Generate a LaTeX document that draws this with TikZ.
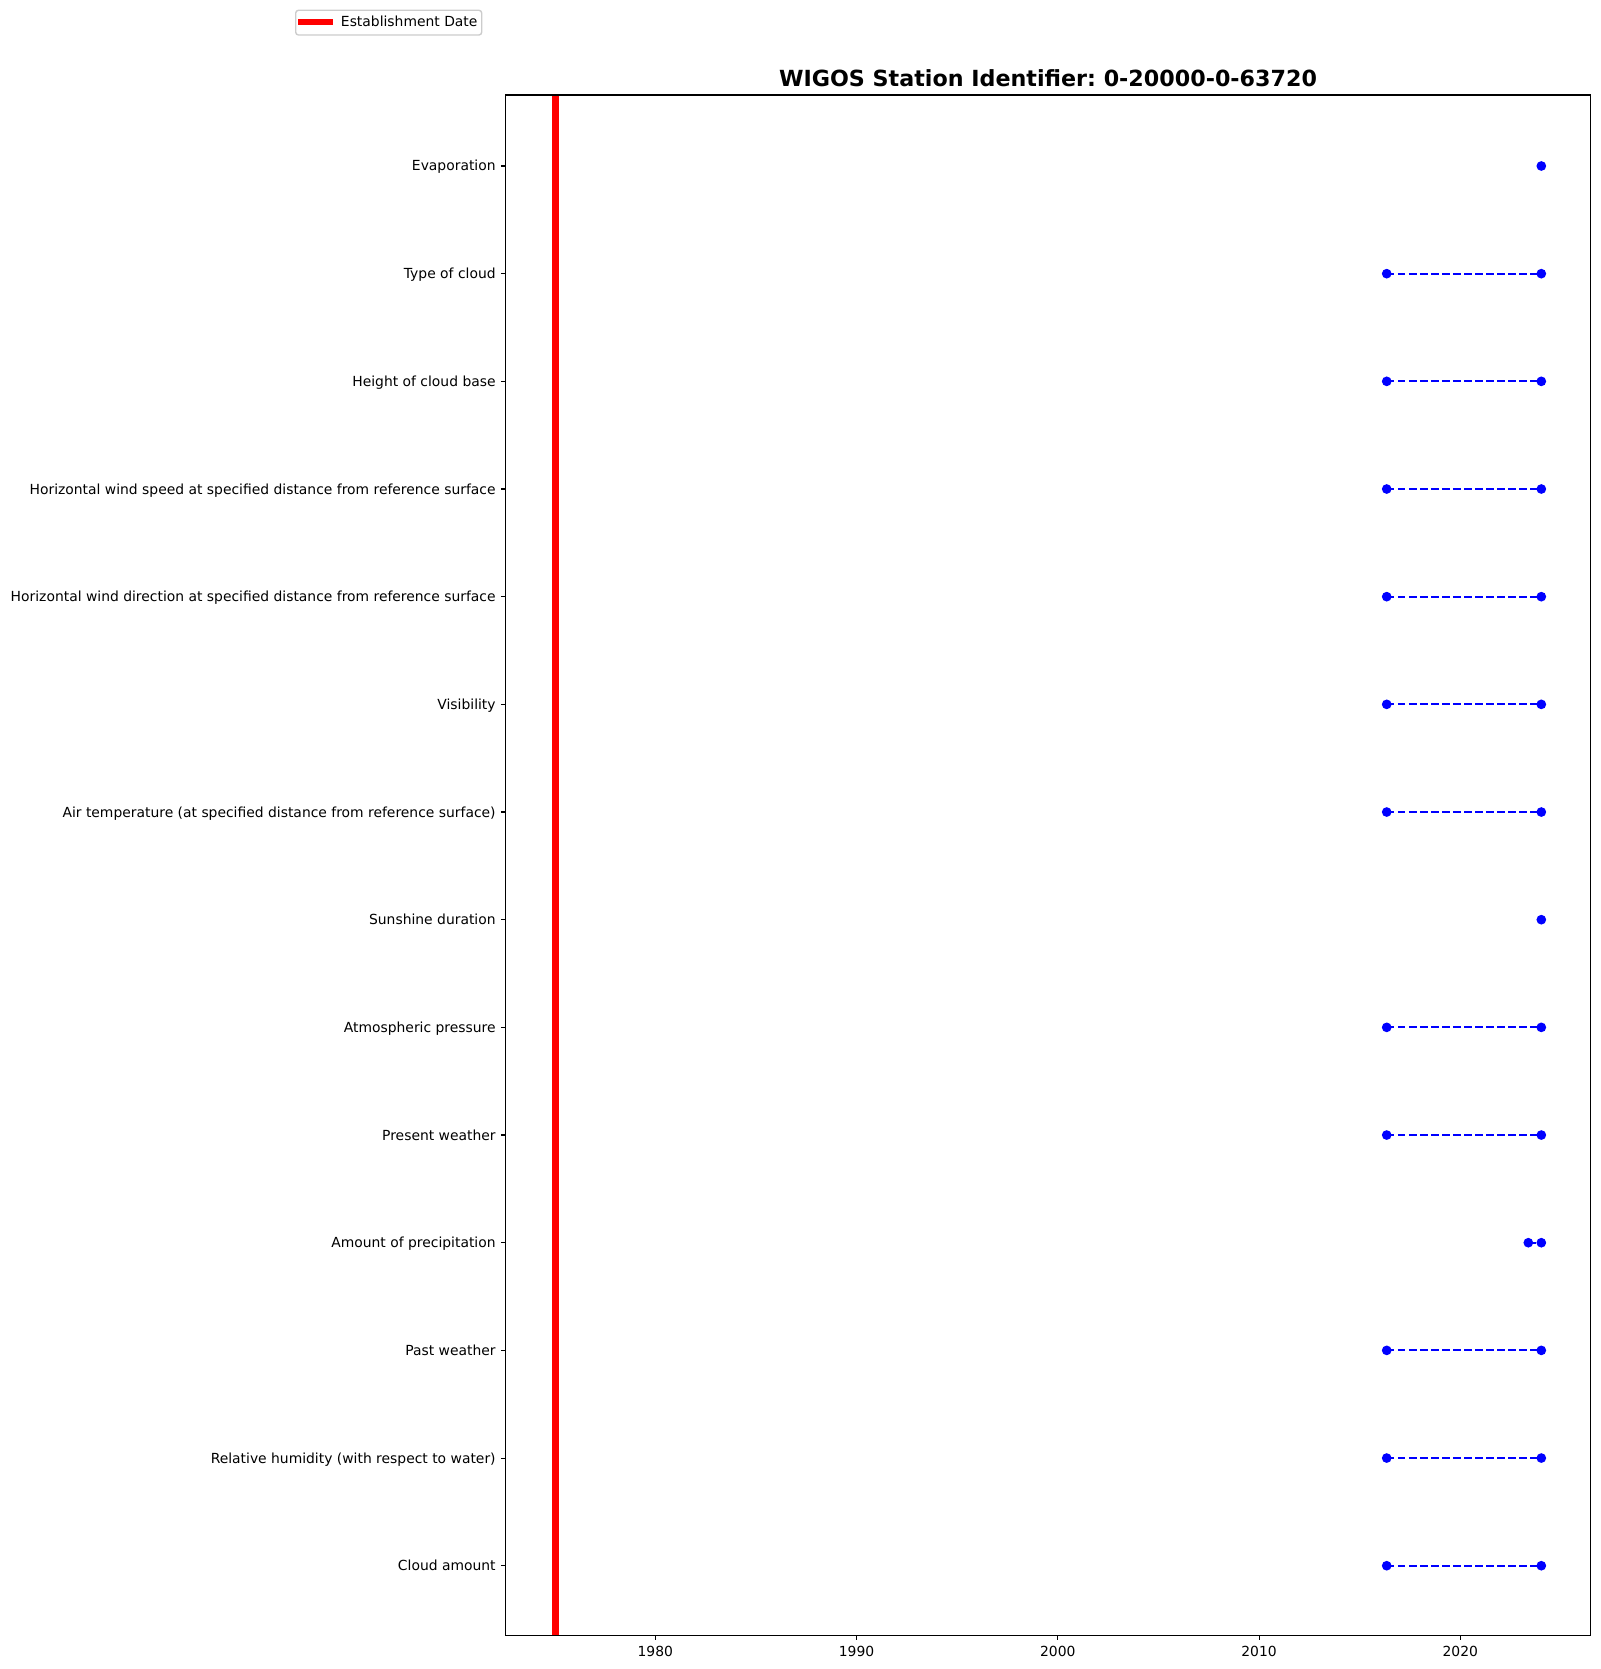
\documentclass[tikz,border=0pt]{standalone}
\usepackage{fontspec}
\setmainfont{DejaVu Sans}
\frenchspacing
\begin{document}
\begin{tikzpicture}[x=0.72pt,y=-0.72pt,
  lab/.style={anchor=base east,inner sep=0pt,font=\fontsize{10}{12}\selectfont},
  xlab/.style={anchor=base,inner sep=0pt,font=\fontsize{10}{12}\selectfont},
  span/.style={draw=blue,line width=1.5pt,dash pattern=on 5.55pt off 2.4pt},
  dot/.style={fill=blue},
  tickmark/.style={line width=0.8pt,black}]
\useasboundingbox (0,0) rectangle (1600,1669);
% axes frame
\coordinate (tl) at (505.7,95);
\coordinate (br) at (1590.3,1635.3);
% establishment line
\draw[red,line width=5pt] (555.7,95) -- (555.7,1635.3);
% y categories
\def\xl{1386.7}
\def\xr{1541.3}
\foreach \i/\name/\txt/\kind in {
 0/ev/Evaporation/s,
 1/tc/Type of cloud/d,
 2/hc/Height of cloud base/d,
 3/ws/Horizontal wind speed at specified distance from reference surface/d,
 4/wd/Horizontal wind direction at specified distance from reference surface/d,
 5/vi/Visibility/d,
 6/at/Air temperature (at specified distance from reference surface)/d,
 7/sd/Sunshine duration/s,
 8/ap/Atmospheric pressure/d,
 9/pw/Present weather/d,
 10/pr/Amount of precipitation/p,
 11/pa/Past weather/d,
 12/rh/Relative humidity (with respect to water)/d,
 13/ca/Cloud amount/d}{
  \pgfmathsetmacro{\yy}{166+\i*107.67}
  \draw[tickmark] (500.8,\yy) -- (505.7,\yy);
  \node[lab] (l\name) at (495.9,\yy+5) {\txt};
  \coordinate (e\name) at (\xr,\yy);
  \if s\kind
  \else
    \if p\kind
      \coordinate (s\name) at (1528.3,\yy);
    \else
      \coordinate (s\name) at (\xl,\yy);
    \fi
    \draw[span] (s\name) -- (e\name);
    \fill[dot] (s\name) circle[radius=3.5pt];
  \fi
  \fill[dot] (e\name) circle[radius=3.5pt];
}
% x ticks
\foreach \yr in {1980,1990,2000,2010,2020}{
  \pgfmathsetmacro{\xx}{655.3+(\yr-1980)*20.125}
  \draw[tickmark] (\xx,1635.3) -- (\xx,1640.2);
  \node[xlab] (t\yr) at (\xx,1656.7) {\yr};
}
\draw[line width=0.8pt] (tl) rectangle (br);
% title
\node[anchor=base,inner sep=0pt,font=\fontsize{16}{19}\selectfont\bfseries] (title) at (1048,86.7) {WIGOS Station Identifier: 0-20000-0-63720};
% legend
\draw[draw=black!20,fill=white,line width=1pt,rounded corners=2pt] (295.7,10.3) rectangle (481.7,35);
\coordinate (lega) at (298,22);
\coordinate (legb) at (332.7,22);
\draw[red,line width=5pt] (lega) -- (legb);
\node[anchor=base west,inner sep=0pt,font=\fontsize{10}{12}\selectfont] (legtext) at (340.7,27) {Establishment Date};
\end{tikzpicture}
\end{document}
